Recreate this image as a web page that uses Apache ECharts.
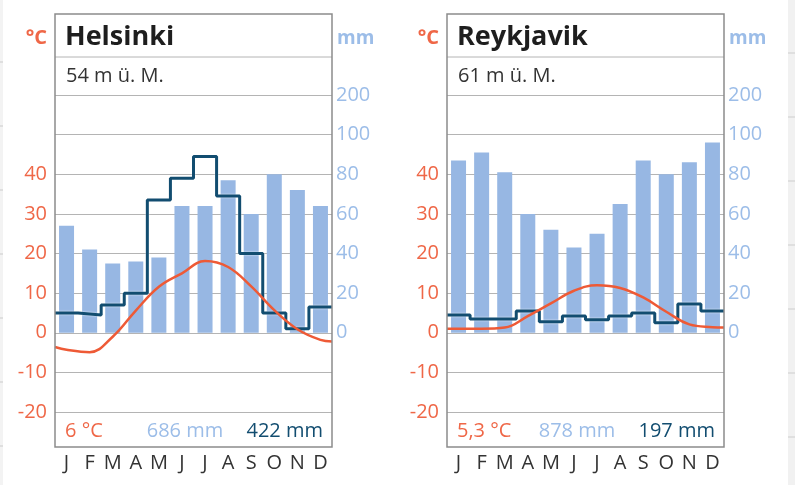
<!DOCTYPE html>
<html>
<head>
<meta charset="utf-8">
<script src="https://cdn.jsdelivr.net/npm/echarts@6/dist/echarts.min.js"></script>
<style>
  html, body { margin: 0; padding: 0; background: #fff; }
  #chart { width: 795px; height: 485px; }
</style>
</head>
<body>
<div id="chart"></div>
<script>
// data
const months = ['J', 'F', 'M', 'A', 'M', 'J', 'J', 'A', 'S', 'O', 'N', 'D']
const mmTickLabels = { 0: '0', 20: '20', 40: '40', 60: '60', 80: '80', 100: '100', 120: '200' }
const tempTickLabels = [-20, -10, 0, 10, 20, 30, 40]

const helsinkiTemp = [-4.3, -4.9, -1.0, 5.6, 11.6, 15.0, 18.1, 16.6, 11.7, 5.7, 0.9, -1.8]
const helsinkiTempEdges = [-3.6, -2.2]
const helsinkiPrecip = [54, 42, 35, 36, 38, 64, 64, 77, 60, 80, 72, 64]
const helsinkiEvap = [10, 9, 14, 20, 67, 78, 89, 69, 40, 10, 2, 13]

const reykjavikTemp = [1.0, 1.0, 1.3, 4.2, 7.4, 10.6, 12.0, 11.3, 8.9, 5.3, 2.1, 1.4]
const reykjavikTempEdges = [1.0, 1.3]
const reykjavikPrecip = [87, 91, 81, 60, 52, 43, 50, 65, 87, 80, 86, 96]
const reykjavikEvap = [9, 7, 7, 11, 5.5, 8.5, 6.5, 8.5, 10, 5, 14.5, 11]

const stations = [
  { name: 'Helsinki', elevation: '54 m ü. M.', annualTemp: '6 °C', annualPrecip: '686 mm', annualEvap: '422 mm',
    temp: helsinkiTemp, tempEdges: helsinkiTempEdges, precip: helsinkiPrecip, evap: helsinkiEvap },
  { name: 'Reykjavik', elevation: '61 m ü. M.', annualTemp: '5,3 °C', annualPrecip: '878 mm', annualEvap: '197 mm',
    temp: reykjavikTemp, tempEdges: reykjavikTempEdges, precip: reykjavikPrecip, evap: reykjavikEvap }
]

// colours
const cTemp = '#ee5a36'
const cTempText = '#ef6747'
const cPrecip = '#97b7e3'
const cPrecipText = '#9cbde8'
const cEvap = '#124d70'
const cGrid = '#b4b4b4'
const font = '"Open Sans", sans-serif'

// layout of the two panels
const boxW = 277
const boxLefts = [55, 447]
const boxTop = 14
const boxBottom = 447

const chart = echarts.init(document.getElementById('chart'))

const grid = [], xAxis = [], yAxis = [], series = [], graphic = []

// faint page edge decorations
graphic.push({ type: 'rect', shape: { x: 0, y: 0, width: 3, height: 485 }, style: { fill: '#f3f3f3' }, silent: true })
graphic.push({ type: 'rect', shape: { x: 788, y: 0, width: 7, height: 485 }, style: { fill: '#f1f1f1' }, silent: true })
for (let i = 0; i < 7; i++) {
  graphic.push({ type: 'line', shape: { x1: 0, y1: 62 + i * 64, x2: 3, y2: 62 + i * 64 }, style: { stroke: '#d8d8d8', lineWidth: 1.5 }, silent: true })
  graphic.push({ type: 'line', shape: { x1: 788, y1: 53 + i * 64, x2: 795, y2: 53 + i * 64 }, style: { stroke: '#d8d8d8', lineWidth: 1.5 }, silent: true })
}

stations.forEach((st, i) => {
  const left = boxLefts[i]
  grid.push({ left: left, width: boxW, top: 95, bottom: 485 - 412 })

  // category axis for the bars and month letters
  xAxis.push({
    type: 'category', gridIndex: i, data: months,
    axisLine: { show: false, onZero: false }, axisTick: { show: false },
    axisLabel: { color: '#333', fontSize: 20, fontFamily: font, margin: 41, interval: 0 }
  })
  // hidden value axis for the curves (0..12 month units)
  xAxis.push({ type: 'value', gridIndex: i, min: 0, max: 12, show: false })

  yAxis.push({
    type: 'value', gridIndex: i, min: -20, max: 60, interval: 10,
    axisLine: { show: false }, axisTick: { show: false },
    axisLabel: {
      color: cTempText, fontSize: 20, fontFamily: font, margin: 8,
      formatter: v => tempTickLabels.includes(v) ? String(v) : ''
    },
    splitLine: { lineStyle: { color: cGrid, width: 1 } }
  })
  yAxis.push({
    type: 'value', gridIndex: i, min: -40, max: 120, interval: 20, position: 'right',
    axisLine: { show: false }, axisTick: { show: false },
    axisLabel: {
      color: cPrecipText, fontSize: 20, fontFamily: font, margin: 4,
      formatter: v => mmTickLabels[v] ?? ''
    },
    splitLine: { show: false }
  })

  series.push({
    type: 'bar', xAxisIndex: i * 2, yAxisIndex: i * 2 + 1,
    data: st.precip, barWidth: 15, itemStyle: { color: cPrecip }, silent: true
  })
  const stepData = st.evap.map((v, k) => [k, v])
  stepData.push([12, st.evap[11]])
  series.push({
    type: 'line', xAxisIndex: i * 2 + 1, yAxisIndex: i * 2 + 1,
    data: stepData, step: 'end', symbol: 'none',
    lineStyle: { color: cEvap, width: 3, shadowColor: 'rgba(255,255,255,0.9)', shadowBlur: 2 }, silent: true, z: 3
  })
  const tempData = [[0, st.tempEdges[0]]].concat(st.temp.map((v, k) => [k + 0.5, v]), [[12, st.tempEdges[1]]])
  series.push({
    type: 'line', xAxisIndex: i * 2 + 1, yAxisIndex: i * 2,
    data: tempData, smooth: 0.4, symbol: 'none',
    lineStyle: { color: cTemp, width: 2.5 }, silent: true, z: 4
  })

  // frame and header
  graphic.push({ type: 'rect', shape: { x: left, y: boxTop, width: boxW, height: boxBottom - boxTop },
    style: { fill: 'none', stroke: '#8c8c8c', lineWidth: 1.5 }, z: 10, silent: true })
  graphic.push({ type: 'line', shape: { x1: left, y1: 57, x2: left + boxW, y2: 57 },
    style: { stroke: cGrid, lineWidth: 1 }, silent: true })
  graphic.push({ type: 'text', x: left + 10, y: 37,
    style: { text: st.name, font: 'bold 27px ' + font, fill: '#1e1e1e', textVerticalAlign: 'middle' } })
  graphic.push({ type: 'text', x: left + 11, y: 76,
    style: { text: st.elevation, font: '20px ' + font, fill: '#333', textVerticalAlign: 'middle' } })
  graphic.push({ type: 'text', x: left - 8, y: 38,
    style: { text: '°C', font: 'bold 20px ' + font, fill: cTempText, textAlign: 'right', textVerticalAlign: 'middle' } })
  graphic.push({ type: 'text', x: left + boxW + 5, y: 39,
    style: { text: 'mm', font: 'bold 19px ' + font, fill: cPrecipText, textVerticalAlign: 'middle' } })

  // annual values
  graphic.push({ type: 'text', x: left + 10, y: 431,
    style: { text: st.annualTemp, font: '20px ' + font, fill: cTempText, textVerticalAlign: 'middle' } })
  graphic.push({ type: 'text', x: left + 130, y: 431,
    style: { text: st.annualPrecip, font: '20px ' + font, fill: cPrecipText, textAlign: 'center', textVerticalAlign: 'middle' } })
  graphic.push({ type: 'text', x: left + boxW - 9, y: 431,
    style: { text: st.annualEvap, font: '20px ' + font, fill: cEvap, textAlign: 'right', textVerticalAlign: 'middle' } })
})

chart.setOption({
  animation: false,
  grid: grid,
  xAxis: xAxis,
  yAxis: yAxis,
  series: series,
  graphic: graphic
})

window.addEventListener('resize', () => chart.resize())
</script>
</body>
</html>
